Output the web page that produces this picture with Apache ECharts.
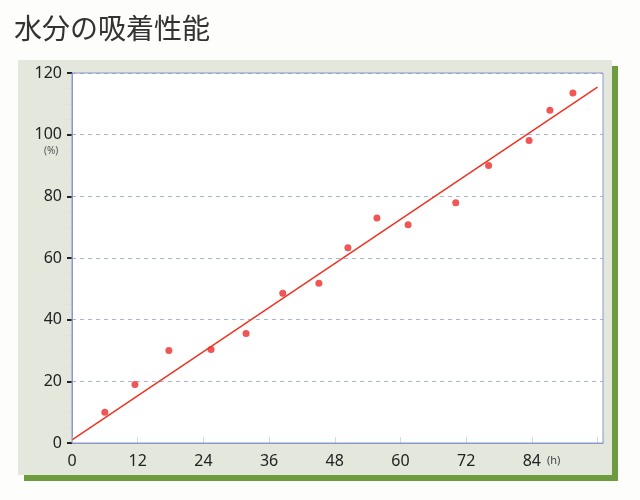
<!DOCTYPE html>
<html><head><meta charset="utf-8">
<script src="https://cdn.jsdelivr.net/npm/echarts@6/dist/echarts.min.js"></script>
<style>html,body{margin:0;background:#fdfdfb}#c{width:640px;height:500px}</style>
</head><body><div id="c"></div>
<script>
const hours = [6, 11.5, 17.7, 25.4, 31.8, 38.5, 45.1, 50.4, 55.7, 61.4, 70.1, 76.1, 83.5, 87.3, 91.5];
const absorption = [10, 19, 30, 30.3, 35.5, 48.6, 51.8, 63.3, 73, 70.8, 77.9, 90, 98.1, 107.9, 113.5];
const fitLine = [[0, 1], [96, 115.4]];
const xTicks = [0, 12, 24, 36, 48, 60, 72, 84];

const chart = echarts.init(document.getElementById("c"));
chart.setOption({
  animation: false,
  grid: { left: 72, right: 37, top: 73, bottom: 57 },
  graphic: [
    { type: "rect", z: -10, shape: { x: 24, y: 66, width: 594, height: 415 }, style: { fill: "#6d9c3e" } },
    { type: "rect", z: -9, shape: { x: 18, y: 60, width: 594, height: 415 }, style: { fill: "#e3e7dc" } },
    { type: "rect", z: -8, shape: { x: 72, y: 73, width: 531, height: 370 }, style: { fill: "#ffffff" } },
    { type: "rect", z: 100, shape: { x: 72, y: 73, width: 531, height: 370 }, style: { fill: null, stroke: "#8a98cc", lineWidth: 1 } },
    { type: "text", left: 14, top: 14, style: { text: "水分の吸着性能", font: "28px 'Noto Sans CJK JP'", fill: "#333" } },
    { type: "text", left: 44, top: 146, style: { text: "(%)", font: "10px 'Noto Sans'", fill: "#555" } },
    { type: "text", left: 547, top: 455, style: { text: "(h)", font: "11px 'Noto Sans'", fill: "#444" } }
  ],
  xAxis: {
    type: "value", min: 0, max: 97, interval: 12,
    axisLine: { show: true, lineStyle: { color: "#8a98cc" } },
    axisTick: { show: true, inside: true, length: 6, lineStyle: { color: "#d8d8e0" } },
    splitLine: { show: false },
    axisLabel: {
      color: "#222", fontSize: 16, fontFamily: "Noto Sans", margin: 10,
      formatter: v => xTicks.includes(v) ? String(v) : ""
    }
  },
  yAxis: {
    type: "value", min: 0, max: 120, interval: 20,
    axisLine: { show: true, lineStyle: { color: "#8a98cc" } },
    axisTick: { show: true, length: 5, lineStyle: { color: "#222", width: 2 } },
    minorTick: { show: true, splitNumber: 4, length: 5, lineStyle: { color: "#e0e0e0" } },
    splitLine: { show: true, lineStyle: { color: "#a8b4d8", type: [4, 4] } },
    axisLabel: { color: "#222", fontSize: 16, fontFamily: "Noto Sans", margin: 10 }
  },
  series: [
    {
      type: "line", data: fitLine, symbol: "none",
      lineStyle: { color: "#ee3322", width: 1.5 }
    },
    {
      type: "scatter", data: hours.map((h, i) => [h, absorption[i]]),
      symbolSize: 7, itemStyle: { color: "#ee2a2a" }
    }
  ]
});
</script></body></html>
